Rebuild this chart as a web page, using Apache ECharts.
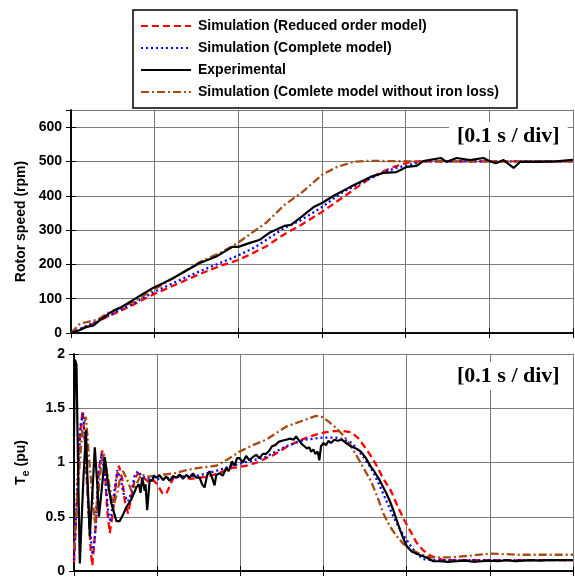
<!DOCTYPE html>
<html><head><meta charset="utf-8">
<script src="https://cdn.jsdelivr.net/npm/echarts@6/dist/echarts.min.js"></script>
<style>html,body{margin:0;padding:0;background:#fff}#c{width:575px;height:578px}</style>
</head><body><div id="c"></div>
<script>
// ---- Data (time in s) ----
const seriesNames = ['Simulation (Reduced order model)','Simulation (Complete model)','Experimental','Simulation (Comlete model without iron loss)'];
const speedTicks = [0,100,200,300,400,500,600];
const torqueTicks = [0,0.5,1,1.5,2];
const annotation = '[0.1 s / div]';

const speedReduced = [[0,0],[0.02,20],[0.046,50],[0.074,82],[0.098,112],[0.126,142],[0.154,172],[0.18,197],[0.199,212],[0.215,230],[0.233,252],[0.255,288],[0.275,315],[0.3,353],[0.334,411],[0.358,452],[0.372,470],[0.386,484],[0.401,496],[0.415,500],[0.6,500]];
const speedComplete = [[0,0],[0.02,22],[0.046,52],[0.074,85],[0.098,118],[0.126,150],[0.154,180],[0.18,206],[0.199,225],[0.22,250],[0.255,306],[0.275,329],[0.3,367],[0.325,411],[0.35,442],[0.374,469],[0.39,482],[0.408,492],[0.42,500],[0.6,500]];
const speedExp = [[0,0],[0.01,8],[0.019,18],[0.027,22],[0.035,38],[0.046,58],[0.06,75],[0.074,96],[0.086,114],[0.098,131],[0.11,145],[0.122,160],[0.138,182],[0.154,204],[0.173,222],[0.193,251],[0.2,251],[0.213,262],[0.225,271],[0.237,292],[0.255,312],[0.263,315],[0.275,338],[0.29,367],[0.3,379],[0.314,400],[0.334,426],[0.358,455],[0.374,467],[0.389,469],[0.401,484],[0.413,487],[0.421,501],[0.442,510],[0.449,499],[0.461,510],[0.477,504],[0.493,510],[0.501,500],[0.508,495],[0.517,504],[0.529,481],[0.537,499],[0.556,499],[0.58,500],[0.596,504],[0.6,505]];
const speedNoIron = [[0,0],[0.011,28],[0.019,32],[0.031,38],[0.046,61],[0.074,90],[0.098,125],[0.126,165],[0.154,207],[0.18,236],[0.199,262],[0.215,290],[0.233,321],[0.255,373],[0.275,408],[0.3,461],[0.318,484],[0.338,499],[0.354,502],[0.38,501],[0.42,500],[0.6,500]];

const torqueReduced = [[0,0.08],[0.004,0.7],[0.007,1.25],[0.0104,1.48],[0.013,1.2],[0.017,0.6],[0.02,0.2],[0.022,0.05],[0.026,0.4],[0.03,0.95],[0.034,1.11],[0.037,0.95],[0.04,0.55],[0.043,0.35],[0.047,0.55],[0.051,0.85],[0.054,0.97],[0.058,0.85],[0.061,0.65],[0.065,0.53],[0.069,0.68],[0.073,0.85],[0.077,0.9],[0.081,0.88],[0.085,0.85],[0.09,0.82],[0.095,0.84],[0.1,0.8],[0.106,0.72],[0.111,0.71],[0.116,0.8],[0.121,0.88],[0.13,0.87],[0.14,0.85],[0.151,0.86],[0.16,0.87],[0.17,0.89],[0.18,0.92],[0.19,0.95],[0.2,0.96],[0.207,0.97],[0.22,1.0],[0.231,1.04],[0.24,1.07],[0.255,1.14],[0.268,1.19],[0.28,1.23],[0.292,1.26],[0.303,1.28],[0.313,1.29],[0.323,1.29],[0.333,1.28],[0.341,1.23],[0.349,1.15],[0.357,1.06],[0.364,0.97],[0.372,0.85],[0.381,0.74],[0.389,0.6],[0.397,0.47],[0.405,0.36],[0.412,0.26],[0.42,0.19],[0.429,0.14],[0.437,0.12],[0.444,0.1],[0.46,0.1],[0.6,0.1]];
const torqueComplete = [[0,0.1],[0.004,0.8],[0.008,1.35],[0.011,1.45],[0.014,1.1],[0.018,0.5],[0.022,0.15],[0.025,0.3],[0.029,0.85],[0.033,1.08],[0.037,0.9],[0.041,0.55],[0.044,0.45],[0.048,0.7],[0.052,0.93],[0.056,0.85],[0.06,0.7],[0.065,0.64],[0.069,0.72],[0.073,0.88],[0.077,0.92],[0.081,0.88],[0.087,0.85],[0.095,0.86],[0.105,0.84],[0.115,0.86],[0.13,0.87],[0.15,0.88],[0.17,0.92],[0.19,0.97],[0.21,1.01],[0.23,1.05],[0.255,1.15],[0.277,1.21],[0.3,1.23],[0.315,1.23],[0.325,1.21],[0.334,1.18],[0.34,1.13],[0.348,1.05],[0.357,0.95],[0.365,0.83],[0.372,0.71],[0.38,0.57],[0.388,0.44],[0.396,0.33],[0.405,0.23],[0.412,0.16],[0.42,0.11],[0.43,0.1],[0.6,0.1]];
const torqueExp = [[0,1.24],[0.0012,1.95],[0.003,1.9],[0.005,0.9],[0.007,0.07],[0.011,0.8],[0.0144,1.3],[0.016,0.9],[0.019,0.32],[0.022,0.7],[0.025,1.14],[0.028,0.8],[0.03,0.5],[0.034,0.8],[0.037,1.05],[0.041,0.8],[0.045,0.62],[0.051,0.46],[0.055,0.46],[0.059,0.52],[0.063,0.59],[0.069,0.66],[0.075,0.77],[0.078,0.8],[0.08,0.72],[0.082,0.86],[0.085,0.74],[0.086,0.8],[0.088,0.56],[0.091,0.84],[0.094,0.83],[0.096,0.88],[0.099,0.86],[0.103,0.88],[0.107,0.84],[0.111,0.87],[0.115,0.83],[0.119,0.875],[0.123,0.86],[0.127,0.89],[0.131,0.85],[0.135,0.885],[0.139,0.86],[0.143,0.9],[0.147,0.86],[0.151,0.86],[0.154,0.8],[0.157,0.77],[0.16,0.88],[0.163,0.92],[0.166,0.86],[0.169,0.79],[0.171,0.885],[0.175,0.9],[0.179,0.88],[0.183,0.95],[0.186,0.92],[0.19,1.01],[0.193,0.97],[0.196,1.04],[0.199,1.04],[0.203,1.0],[0.207,1.06],[0.211,1.02],[0.215,1.05],[0.219,1.07],[0.223,1.04],[0.227,1.08],[0.231,1.08],[0.235,1.11],[0.238,1.15],[0.242,1.16],[0.246,1.19],[0.25,1.2],[0.255,1.21],[0.26,1.22],[0.264,1.21],[0.267,1.24],[0.271,1.2],[0.274,1.17],[0.277,1.15],[0.28,1.13],[0.283,1.14],[0.285,1.1],[0.288,1.12],[0.29,1.08],[0.293,1.1],[0.295,1.02],[0.297,1.15],[0.3,1.18],[0.303,1.16],[0.306,1.2],[0.309,1.18],[0.313,1.21],[0.317,1.2],[0.322,1.21],[0.327,1.18],[0.333,1.15],[0.339,1.13],[0.345,1.1],[0.351,1.04],[0.357,0.96],[0.361,0.92],[0.364,0.88],[0.368,0.83],[0.372,0.77],[0.376,0.71],[0.38,0.64],[0.384,0.56],[0.388,0.47],[0.392,0.38],[0.396,0.3],[0.4,0.23],[0.406,0.18],[0.412,0.16],[0.418,0.14],[0.424,0.125],[0.432,0.09],[0.44,0.09],[0.45,0.085],[0.46,0.09],[0.47,0.095],[0.48,0.085],[0.49,0.09],[0.5,0.095],[0.51,0.09],[0.52,0.1],[0.53,0.09],[0.54,0.095],[0.55,0.1],[0.56,0.095],[0.57,0.1],[0.58,0.1],[0.6,0.1]];
const torqueNoIron = [[0,0.2],[0.005,0.8],[0.01,1.3],[0.0144,1.42],[0.018,1.05],[0.025,0.44],[0.029,0.7],[0.033,1.0],[0.036,1.08],[0.04,0.9],[0.047,0.59],[0.052,0.72],[0.056,0.88],[0.059,0.92],[0.064,0.84],[0.069,0.74],[0.075,0.8],[0.081,0.89],[0.09,0.87],[0.1,0.88],[0.12,0.9],[0.135,0.93],[0.15,0.95],[0.171,0.97],[0.185,1.03],[0.199,1.1],[0.215,1.16],[0.231,1.21],[0.245,1.28],[0.255,1.33],[0.273,1.38],[0.291,1.43],[0.298,1.42],[0.304,1.39],[0.315,1.32],[0.325,1.24],[0.333,1.15],[0.34,1.06],[0.348,0.95],[0.357,0.83],[0.365,0.68],[0.372,0.53],[0.38,0.41],[0.388,0.32],[0.396,0.25],[0.405,0.2],[0.415,0.16],[0.429,0.125],[0.453,0.125],[0.475,0.14],[0.5,0.16],[0.52,0.155],[0.532,0.15],[0.6,0.15]];

// ---- Chart ----
const chart = echarts.init(document.getElementById('c'), null, {renderer:'canvas'});
const FONT = 'Liberation Sans, Arial, sans-serif';
const gridLine = {show:true, lineStyle:{color:'#7a7a7a', width:1}};
const frameLine = {show:true, lineStyle:{color:'#000', width:1.5}};
const styles = [
  {color:'#ff0000', width:2.3, type:[7,4]},
  {color:'#0000ff', width:2.3, type:[2,3]},
  {color:'#000000', width:2.2, type:'solid'},
  {color:'#a64b14', width:2.3, type:[8,3,2,3]}
];
function xAx(gi, pos, split){
  return {type:'value', gridIndex:gi, position:pos, min:0, max:0.6, interval:0.1,
    axisLine:frameLine, axisTick:{show:true, inside:true, length:5, lineStyle:{color:'#000'}},
    axisLabel:{show:false}, splitLine: split ? gridLine : {show:false}};
}
function yAx(gi, pos, min, max, interval, name, showLabel, split){
  return {type:'value', gridIndex:gi, position:pos, min:min, max:max, interval:interval,
    axisLine:frameLine, axisTick:{show:true, inside:true, length:5, lineStyle:{color:'#000'}},
    axisLabel:{show:showLabel, showMaxLabel: max===2, fontFamily:FONT, fontWeight:'bold', fontSize:14, color:'#000', margin:9},
    splitLine: split ? gridLine : {show:false},
    name:name, nameLocation:'middle', nameGap:43,
    nameTextStyle:{fontFamily:FONT, fontWeight:'bold', fontSize:14, color:'#000',
      rich:{a:{fontFamily:FONT, fontWeight:'bold', fontSize:14, color:'#000'},
            b:{fontFamily:FONT, fontWeight:'bold', fontSize:11, color:'#000', padding:[8,0,0,0]}}}};
}
const speedData = [speedReduced, speedComplete, speedExp, speedNoIron];
const torqueData = [torqueReduced, torqueComplete, torqueExp, torqueNoIron];
const series = [];
[0,1,2,3].forEach(i=>{
  series.push({name:seriesNames[i], type:'line', xAxisIndex:0, yAxisIndex:0, data:speedData[i], symbol:'none', z: i===2?3:2, lineStyle:styles[i], itemStyle:{color:styles[i].color}, animation:false});
});
[0,1,2,3].forEach(i=>{
  series.push({name:seriesNames[i], type:'line', xAxisIndex:2, yAxisIndex:2, data:torqueData[i], symbol:'none', z: i===2?3:2, lineStyle:styles[i], itemStyle:{color:styles[i].color}, animation:false});
});
chart.setOption({
  animation:false,
  backgroundColor:'#fff',
  grid:[{left:71, right:2, top:110, bottom:245}, {left:74, right:2, top:354, bottom:2}],
  xAxis:[xAx(0,'bottom',true), xAx(0,'top',false), xAx(1,'bottom',true), xAx(1,'top',false)],
  yAxis:[yAx(0,'left',0,650,100,'Rotor speed (rpm)',true,true), yAx(0,'right',0,650,100,'',false,false),
         yAx(1,'left',0,2,0.5,'{a|T}{b|e}{a| (pu)}',true,true), yAx(1,'right',0,2,0.5,'',false,false)],
  legend:{data:seriesNames, orient:'vertical', left:133, top:10, itemWidth:50, itemHeight:14, itemGap:8,
    padding:[9,18,9,7], borderColor:'#000', borderWidth:1.5, backgroundColor:'#fff',
    itemStyle:{opacity:0},
    textStyle:{fontFamily:FONT, fontWeight:'bold', fontSize:14, color:'#000', padding:[0,0,0,2]}},
  graphic:[
    {type:'text', left:449, top:122, z:100, style:{text:annotation, font:'bold 22px "Liberation Serif", "Times New Roman", serif', fill:'#000', backgroundColor:'#fff', padding:[3,8,3,8]}},
    {type:'text', left:449, top:362, z:100, style:{text:annotation, font:'bold 22px "Liberation Serif", "Times New Roman", serif', fill:'#000', backgroundColor:'#fff', padding:[3,8,3,8]}}
  ],
  series:series
});
</script></body></html>
